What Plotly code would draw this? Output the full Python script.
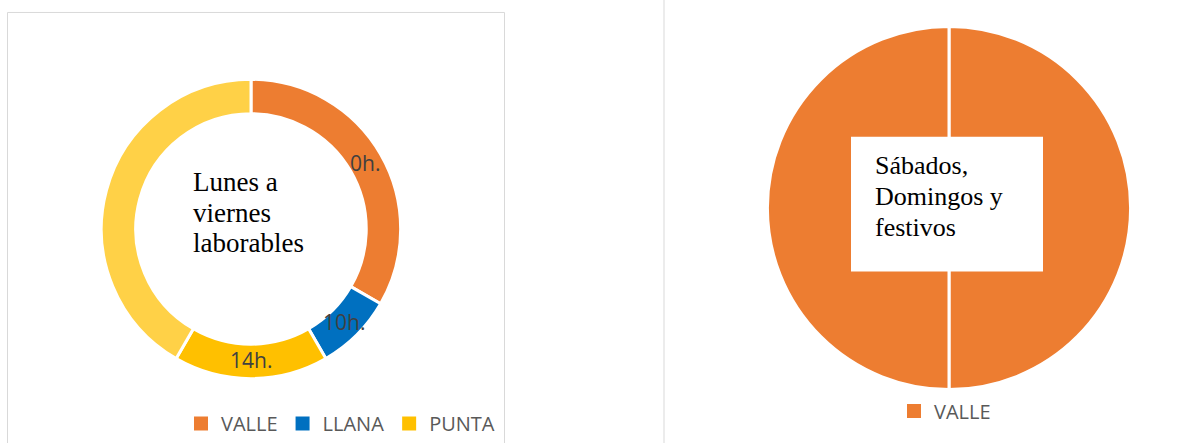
import math
import plotly.graph_objects as go

W, H = 1197, 443

# ---- data ----
weekday_segments = ["VALLE", "LLANA", "PUNTA", "RESTO"]
weekday_hours = [8, 2, 4, 10]
weekday_text = ["0h.", "10h.", "14h.", ""]
weekday_colors = ["#ED7D31", "#0070C0", "#FFC000", "#FFD147"]

weekend_segments = ["VALLE A", "VALLE B"]
weekend_hours = [12, 12]
weekend_colors = ["#ED7D31", "#ED7D31"]

legend_left_names = ["VALLE", "LLANA", "PUNTA"]
legend_left_colors = ["#ED7D31", "#0070C0", "#FFC000"]
legend_right_names = ["VALLE"]
legend_right_colors = ["#ED7D31"]

left_title_lines = ["Lunes a", "viernes", "laborables"]
right_title_lines = ["Sábados,", "Domingos y", "festivos"]


def px(x):
    return x / W


def py(y):
    return 1 - y / H


# left donut geometry (pixels)
L_CX, L_CY, L_R = 251, 229.5, 148.5
HOLE = 0.77
# right pie geometry (pixels)
R_CX, R_CY, R_R = 949, 208.5, 180.5
PAD = 1.5  # plotly draws the pie slightly inside its domain

fig = go.Figure()

fig.add_trace(go.Pie(
    labels=weekday_segments, values=weekday_hours,
    textinfo="none",
    marker=dict(colors=weekday_colors, line=dict(color="white", width=3)),
    hole=HOLE, sort=False, direction="clockwise", rotation=0,
    domain=dict(x=[px(L_CX - L_R - PAD), px(L_CX + L_R + PAD)],
                y=[py(L_CY + L_R + PAD), py(L_CY - L_R - PAD)]),
    showlegend=False, hoverinfo="label+value",
))

fig.add_trace(go.Pie(
    labels=weekend_segments, values=weekend_hours, textinfo="none",
    marker=dict(colors=weekend_colors, line=dict(color="white", width=3)),
    sort=False, direction="clockwise", rotation=0,
    domain=dict(x=[px(R_CX - R_R - PAD), px(R_CX + R_R + PAD)],
                y=[py(R_CY + R_R + PAD), py(R_CY - R_R - PAD)]),
    showlegend=False, hoverinfo="label+value",
))

for n, c in zip(legend_left_names, legend_left_colors):
    fig.add_trace(go.Scatter(x=[None], y=[None], mode="markers", name=n,
                             marker=dict(symbol="square", size=14, color=c),
                             legend="legend"))
for n, c in zip(legend_right_names, legend_right_colors):
    fig.add_trace(go.Scatter(x=[None], y=[None], mode="markers", name=n,
                             marker=dict(symbol="square", size=14, color=c),
                             legend="legend2"))

annotations = []
# slice labels placed at each slice's mid-angle, in the middle of the ring
total = sum(weekday_hours)
cum = 0
r_mid = L_R * (1 + HOLE) / 2
for v, t in zip(weekday_hours, weekday_text):
    ang = math.radians((cum + v / 2) / total * 360)
    cum += v
    if not t:
        continue
    x = L_CX + r_mid * math.sin(ang)
    y = L_CY - r_mid * math.cos(ang)
    annotations.append(dict(text=t, xref="paper", yref="paper", x=px(x), y=py(y),
                            xanchor="center", yanchor="middle", showarrow=False,
                            font=dict(family="Open Sans", size=21, color="#404040")))

for i, line in enumerate(left_title_lines):
    annotations.append(dict(text=line, xref="paper", yref="paper",
                            x=px(191), y=py(182 + 31 * i), xanchor="left", yanchor="middle",
                            showarrow=False,
                            font=dict(family="Liberation Serif", size=27, color="black")))
for i, line in enumerate(right_title_lines):
    annotations.append(dict(text=line, xref="paper", yref="paper",
                            x=px(873), y=py(166 + 31 * i), xanchor="left", yanchor="middle",
                            showarrow=False,
                            font=dict(family="Liberation Serif", size=26, color="black")))

legend_font = dict(family="Open Sans", size=20, color="#595959")

fig.update_layout(
    width=W, height=H,
    margin=dict(l=0, r=0, t=0, b=0),
    paper_bgcolor="white", plot_bgcolor="white",
    xaxis=dict(visible=False), yaxis=dict(visible=False),
    legend=dict(orientation="h", x=px(181), y=py(424), xanchor="left", yanchor="middle",
                font=legend_font, bgcolor="rgba(0,0,0,0)", itemclick=False),
    legend2=dict(orientation="h", x=px(894), y=py(411), xanchor="left", yanchor="middle",
                 font=legend_font, bgcolor="rgba(0,0,0,0)", itemclick=False),
    shapes=[
        dict(type="rect", xref="paper", yref="paper", x0=px(7.5), x1=px(504.5),
             y0=py(460), y1=py(12.5), line=dict(color="#D9D9D9", width=1)),
        dict(type="line", xref="paper", yref="paper", x0=px(664), x1=px(664),
             y0=py(460), y1=py(-5), line=dict(color="#D9D9D9", width=1)),
        dict(type="rect", xref="paper", yref="paper", x0=px(851), x1=px(1043),
             y0=py(272), y1=py(137), fillcolor="white", line=dict(width=0)),
    ],
    annotations=annotations,
)

fig.write_html("out.html", config={"displayModeBar": False},
               post_script="document.body.style.margin='0';")
